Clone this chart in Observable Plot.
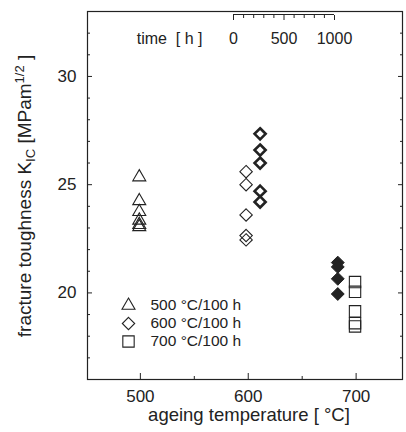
<!DOCTYPE html>
<html><head><meta charset="utf-8">
<script src="https://cdn.jsdelivr.net/npm/d3@7"></script>
<script src="https://cdn.jsdelivr.net/npm/@observablehq/plot@0.6"></script>
<style>
html,body{margin:0;padding:0;background:#fff;}
#wrap{position:relative;width:406px;height:432px;}
#wrap svg{position:absolute;left:0;top:0;overflow:visible;}
</style></head><body><div id="wrap"></div>
<script>
// ---- data ----
// x = plotted temperature position (°C), y = K_IC (MPa m^1/2)
const tri500X = 499;
const tri500K = [25.35, 24.25, 23.75, 23.35, 23.15, 23.05];
const dia600X = 598;
const dia600K = [25.6, 25.0, 23.6, 22.65, 22.45];
const dia600LongX = 611;
const dia600LongK = [27.35, 26.6, 26.0, 24.7, 24.2];
const dia700LongX = 683;
const dia700LongK = [21.4, 21.2, 20.65, 19.95];
const sq700X = 699;
const sq700K = [20.5, 20.05, 19.15, 18.6, 18.45];

const xMajorTicks = [500, 600, 700];
const xMinorTicks = [550, 650];
const yMajorTicks = [20, 25, 30];
const yMinorTicks = [17, 18, 19, 21, 22, 23, 24, 26, 27, 28, 29, 31, 32];

const timeMinorTicks = [100, 200, 300, 400, 600, 700, 800, 900];
const timeMajorTicks = [0, 500, 1000];
const timeLabel = "time  [ h ]";

const legendLabels = ["500 °C/100 h", "600 °C/100 h", "700 °C/100 h"];

// ---- styling ----
const ink = "#222";
const font = "'Liberation Sans', Arial, sans-serif";

const main = Plot.plot({
  width: 406, height: 432,
  marginLeft: 87, marginRight: 4, marginTop: 11, marginBottom: 53,
  x: {domain: [451, 743]},
  y: {domain: [16, 33]},
  style: {fontFamily: font, fontSize: "17px", color: ink, background: "white"},
  marks: [
    Plot.frame({stroke: ink, strokeWidth: 1.2}),
    Plot.axisY(yMinorTicks, {anchor: "left", tickSize: -3, tickFormat: () => "", label: null, stroke: ink}),
    Plot.axisY(yMajorTicks, {anchor: "left", tickSize: -5, tickFormat: () => "", label: null, stroke: ink}),
    Plot.axisY(yMajorTicks, {anchor: "left", tickSize: 0, tickPadding: 11, label: null, fill: ink}),
    Plot.axisY(yMinorTicks, {anchor: "right", tickSize: -3, tickFormat: () => "", label: null, stroke: ink}),
    Plot.axisY(yMajorTicks, {anchor: "right", tickSize: -5, tickFormat: () => "", label: null, stroke: ink}),
    Plot.axisX(xMinorTicks, {anchor: "bottom", tickSize: -3, tickFormat: () => "", label: null, stroke: ink}),
    Plot.axisX(xMajorTicks, {anchor: "bottom", tickSize: -6, tickFormat: () => "", label: null, stroke: ink}),
    Plot.axisX(xMajorTicks, {anchor: "bottom", tickSize: 0, tickPadding: 10, label: null, fill: ink}),
    Plot.dot(tri500K, {x: () => tri500X, y: d => d, symbol: "triangle2", r: 6.2, stroke: ink, strokeWidth: 1.1, fill: "none"}),
    Plot.dot(dia600K, {x: () => dia600X, y: d => d, symbol: "diamond2", r: 5.6, stroke: ink, strokeWidth: 1.1, fill: "none"}),
    Plot.dot(dia600LongK, {x: () => dia600LongX, y: d => d, symbol: "diamond2", r: 5.0, stroke: ink, strokeWidth: 2.6, fill: "none"}),
    Plot.dot(dia700LongK, {x: () => dia700LongX, y: d => d, symbol: "diamond2", r: 5.8, stroke: ink, strokeWidth: 1, fill: ink}),
    Plot.dot(sq700K, {x: () => sq700X, y: d => d, symbol: "square", r: 6.4, stroke: ink, strokeWidth: 1.1, fill: "none"})
  ]
});

// axis titles with sub/superscripts
const svg = d3.select(main);
const yt = svg.append("text")
  .attr("transform", "translate(30.5,196) rotate(-90)")
  .attr("text-anchor", "middle")
  .attr("fill", ink)
  .style("font-family", font).style("font-size", "19px");
yt.append("tspan").text("fracture toughness K");
yt.append("tspan").attr("dy", 4).style("font-size", "13px").text("IC");
yt.append("tspan").attr("dy", -4).text(" [MPam");
yt.append("tspan").attr("dy", -7).style("font-size", "13px").text("1/2");
yt.append("tspan").attr("dy", 7).text(" ]");

svg.append("text")
  .attr("x", 249).attr("y", 421)
  .attr("text-anchor", "middle")
  .attr("fill", ink)
  .style("font-family", font).style("font-size", "18.5px")
  .text("ageing temperature [ °C]");

// time scale inset
const inset = Plot.plot({
  width: 406, height: 50,
  marginLeft: 233, marginRight: 72, marginTop: 14, marginBottom: 6,
  x: {domain: [0, 1000]},
  y: {domain: [0, 1], axis: null},
  style: {fontFamily: font, fontSize: "16px", color: ink, background: "transparent"},
  marks: [
    Plot.ruleY([1], {x1: 0, x2: 1000, stroke: ink, strokeWidth: 1}),
    Plot.axisX(timeMinorTicks, {anchor: "top", tickSize: -3, tickFormat: () => "", label: null, stroke: ink}),
    Plot.axisX(timeMajorTicks, {anchor: "top", tickSize: -5, tickFormat: () => "", label: null, stroke: ink}),
    Plot.text(timeMajorTicks, {x: d => d, frameAnchor: "top", lineAnchor: "top", dy: 18, text: d => String(d), fill: ink}),
    Plot.text([timeLabel], {x: () => 0, frameAnchor: "top", lineAnchor: "top", dy: 18, dx: -31, textAnchor: "end", fill: ink})
  ]
});

// legend
const legend = Plot.plot({
  width: 406, height: 432,
  marginLeft: 128, marginRight: 0, marginTop: 0, marginBottom: 0,
  y: {type: "point", domain: legendLabels, range: [304.5, 341.5], padding: 0, axis: null},
  style: {fontFamily: font, fontSize: "15.5px", color: ink, background: "transparent"},
  marks: [
    Plot.dot([legendLabels[0]], {y: d => d, frameAnchor: "left", symbol: "triangle2", r: 6.2, stroke: ink, strokeWidth: 1.1, fill: "none"}),
    Plot.dot([legendLabels[1]], {y: d => d, frameAnchor: "left", symbol: "diamond2", r: 5.6, stroke: ink, strokeWidth: 1.1, fill: "none"}),
    Plot.dot([legendLabels[2]], {y: d => d, frameAnchor: "left", symbol: "square", r: 6.4, stroke: ink, strokeWidth: 1.1, fill: "none"}),
    Plot.text(legendLabels, {y: d => d, text: d => d, frameAnchor: "left", dx: 22, textAnchor: "start", fill: ink})
  ]
});

const wrap = document.getElementById("wrap");
wrap.appendChild(main);
wrap.appendChild(inset);
wrap.appendChild(legend);
</script>
</body></html>
